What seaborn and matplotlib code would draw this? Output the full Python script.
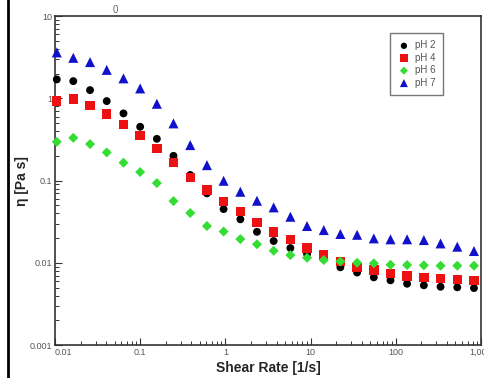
import numpy as np
import pandas as pd
import matplotlib
matplotlib.use("Agg")
import matplotlib.pyplot as plt
import seaborn as sns
from matplotlib.ticker import FuncFormatter, NullFormatter, LogLocator
from matplotlib.lines import Line2D

# 剪切速率 (1/s)
shear_rate = [0.0105, 0.0164, 0.0258, 0.0405, 0.0637, 0.100, 0.157, 0.246, 0.387,
              0.608, 0.954, 1.50, 2.35, 3.69, 5.80, 9.10, 14.3, 22.4, 35.2, 55.3,
              86.8, 136, 214, 336, 528, 829]

# 粘度 (Pa s)
eta_ph2 = [1.70, 1.62, 1.26, 0.926, 0.656, 0.451, 0.322, 0.200, 0.117, 0.0699,
           0.0450, 0.0338, 0.0238, 0.0184, 0.0151, 0.0128, 0.0111, 0.00881, 0.00761,
           0.00665, 0.00612, 0.00556, 0.00532, 0.00511, 0.00503, 0.00493]
eta_ph4 = [0.926, 0.979, 0.821, 0.643, 0.482, 0.354, 0.246, 0.166, 0.109, 0.0766,
           0.0552, 0.0420, 0.0310, 0.0238, 0.0192, 0.0152, 0.0124, 0.0103, 0.00881,
           0.00816, 0.00744, 0.00690, 0.00665, 0.00640, 0.00622, 0.00605]
eta_ph6 = [0.296, 0.331, 0.278, 0.220, 0.165, 0.127, 0.0932, 0.0563, 0.0403, 0.0280,
           0.0240, 0.0194, 0.0168, 0.0140, 0.0124, 0.0115, 0.0108, 0.0104, 0.0100,
           0.00985, 0.00947, 0.00939, 0.00932, 0.00921, 0.00921, 0.00921]
eta_ph7 = [3.62, 3.11, 2.76, 2.22, 1.75, 1.32, 0.859, 0.496, 0.270, 0.154,
           0.0994, 0.0731, 0.0568, 0.0472, 0.0363, 0.0280, 0.0250, 0.0224, 0.0219,
           0.0198, 0.0193, 0.0193, 0.0189, 0.0172, 0.0157, 0.0139]

series_names = ["pH 2", "pH 4", "pH 6", "pH 7"]
x_ticks = [0.01, 0.1, 1, 10, 100, 1000]
y_ticks = [0.001, 0.01, 0.1, 1, 10]

df = pd.concat([
    pd.DataFrame({"rate": shear_rate, "eta": vals, "sample": name})
    for name, vals in zip(series_names, [eta_ph2, eta_ph4, eta_ph6, eta_ph7])
])

sns.set_style("ticks")
plt.rcParams['font.family'] = ['Liberation Sans', 'DejaVu Sans']

palette = {"pH 2": "#000000", "pH 4": "#ee1111", "pH 6": "#33dd33", "pH 7": "#1111cc"}
markers = {"pH 2": "o", "pH 4": "s", "pH 6": "D", "pH 7": "^"}
sizes = {"pH 2": 32, "pH 4": 46, "pH 6": 26, "pH 7": 52}

fig = plt.figure(figsize=(4.84, 3.78), dpi=100)
ax = fig.add_axes([0.1136, 0.0873, 0.880, 0.870])

for name in series_names:
    sub = df[df["sample"] == name]
    sns.scatterplot(data=sub, x="rate", y="eta", color=palette[name],
                    marker=markers[name], s=sizes[name], edgecolor="none",
                    label=name, ax=ax, clip_on=False, zorder=3)

ax.set_xscale("log")
ax.set_yscale("log")
ax.set_xlim(0.01, 1000)
ax.set_ylim(0.001, 10)

fmt = FuncFormatter(lambda v, _: f"{int(round(v)):,}" if v >= 1 else f"{v:g}")
ax.set_xticks(x_ticks)
ax.set_yticks(y_ticks)
ax.xaxis.set_minor_locator(LogLocator(base=10, subs=np.arange(2, 10)))
ax.yaxis.set_minor_locator(LogLocator(base=10, subs=np.arange(2, 10)))
ax.xaxis.set_major_formatter(fmt)
ax.yaxis.set_major_formatter(fmt)
ax.xaxis.set_minor_formatter(NullFormatter())
ax.yaxis.set_minor_formatter(NullFormatter())

ax.tick_params(which="both", direction="in", colors="#333333", labelcolor="#555555",
               labelsize=6.5, pad=2)
ax.tick_params(which="major", length=5, width=0.8)
ax.tick_params(which="minor", length=3, width=0.7)

# 0.01 标签靠右放，避免与 y 轴 0.001 重叠
ax.xaxis.get_major_ticks()[0].label1.set_horizontalalignment("left")

for sp in ax.spines.values():
    sp.set_visible(True)
    sp.set_color("#333333")
    sp.set_linewidth(1.2)

ax.set_xlabel("Shear Rate [1/s]", fontsize=10, fontweight="bold", labelpad=3)
ax.set_ylabel("η [Pa s]", fontsize=10, fontweight="bold")
ax.yaxis.set_label_coords(-0.062, 0.5)

leg = ax.legend(loc="upper right", bbox_to_anchor=(0.911, 0.95), fontsize=7,
                frameon=True, fancybox=False, handletextpad=0.5, borderpad=0.8,
                labelspacing=0.25, handlelength=1.2, markerscale=0.8,
                borderaxespad=0)
leg.get_frame().set_edgecolor("#555555")
leg.get_frame().set_linewidth(1.0)
for t in leg.get_texts():
    t.set_color("#555555")

fig.text(115 / 484, 1 - 10 / 378, "0", fontsize=7, color="#666666",
         ha="center", va="center")

# 左侧边框线
fig.add_artist(Line2D([7.5 / 484, 7.5 / 484], [0, 1], color="black", linewidth=2,
                      transform=fig.transFigure))

fig.savefig("out.png", dpi=100)
